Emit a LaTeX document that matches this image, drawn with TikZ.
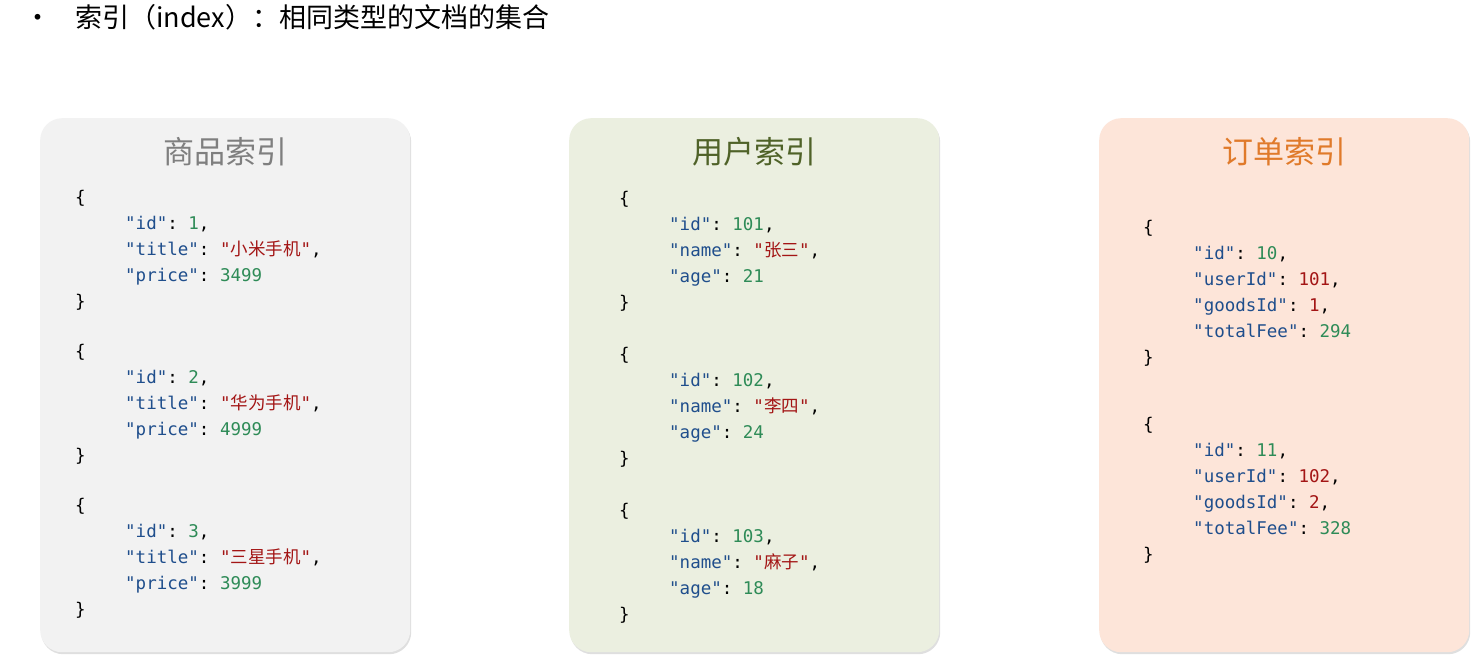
\documentclass[tikz,border=0pt]{standalone}
\usepackage{fontspec}
\setmonofont{DejaVu Sans Mono}
\newfontfamily\cjk{Noto Sans CJK SC}
\usetikzlibrary{shadows}
\definecolor{kc}{HTML}{1F4E8C}
\definecolor{nc}{HTML}{2E8B57}
\definecolor{sc}{HTML}{A31515}
\definecolor{bgA}{HTML}{F2F2F2}
\definecolor{bgB}{HTML}{EBEFE0}
\definecolor{bgC}{HTML}{FDE5D9}
\definecolor{tA}{HTML}{7F7F7F}
\definecolor{tB}{HTML}{4F6228}
\definecolor{tC}{HTML}{E07A2A}
\newcommand{\Kq}[1]{\textcolor{kc}{"#1"}}
\newcommand{\Nq}[1]{\textcolor{nc}{#1}}
\newcommand{\Rq}[1]{\textcolor{sc}{#1}}
\newcommand{\Sq}[1]{\textcolor{sc}{"{\cjk #1}"}}
\newcommand{\indt}{\hspace*{50pt}}
\tikzset{
  panel/.style={rounded corners=22pt, draw=none, minimum width=370pt, anchor=north west,
    drop shadow={shadow xshift=1pt, shadow yshift=-2pt, opacity=0.25}},
  ttl/.style={font=\cjk\fontsize{31}{31}\selectfont, anchor=base},
  obj/.style={font=\ttfamily\fontsize{17.5}{26}\selectfont, align=left, anchor=north west, inner sep=0pt, text depth=0pt}
}
\begin{document}
\begin{tikzpicture}[x=1pt,y=-1pt]
\useasboundingbox (0,0) rectangle (1482,664);
\fill[white] (0,0) rectangle (1482,664);
\node[font=\cjk\fontsize{27}{27}\selectfont, anchor=base west, inner sep=0pt] (head) at (24,27) {•\hspace{24pt}索引（index）：相同类型的文档的集合};

\node[panel, fill=bgA, minimum height=534pt] (pA) at (40,118) {};
\node[panel, fill=bgB, minimum height=534pt] (pB) at (569,118) {};
\node[panel, fill=bgC, minimum height=534pt] (pC) at (1099,118) {};
\node[ttl, text=tA] (tA) at (225,163) {商品索引};
\node[ttl, text=tB] (tB) at (754,163) {用户索引};
\node[ttl, text=tC] (tC) at (1284,163) {订单索引};

\node[obj] (a1) at (75,190) {\{\\\indt\Kq{id}: \Nq{1},\\\indt\Kq{title}: \Sq{小米手机},\\\indt\Kq{price}: \Nq{3499}\\\}};
\node[obj] (a2) at (75,344) {\{\\\indt\Kq{id}: \Nq{2},\\\indt\Kq{title}: \Sq{华为手机},\\\indt\Kq{price}: \Nq{4999}\\\}};
\node[obj] (a3) at (75,498) {\{\\\indt\Kq{id}: \Nq{3},\\\indt\Kq{title}: \Sq{三星手机},\\\indt\Kq{price}: \Nq{3999}\\\}};

\node[obj] (b1) at (619,191) {\{\\\indt\Kq{id}: \Nq{101},\\\indt\Kq{name}: \Sq{张三},\\\indt\Kq{age}: \Nq{21}\\\}};
\node[obj] (b2) at (619,347) {\{\\\indt\Kq{id}: \Nq{102},\\\indt\Kq{name}: \Sq{李四},\\\indt\Kq{age}: \Nq{24}\\\}};
\node[obj] (b3) at (619,503) {\{\\\indt\Kq{id}: \Nq{103},\\\indt\Kq{name}: \Sq{麻子},\\\indt\Kq{age}: \Nq{18}\\\}};

\node[obj] (c1) at (1143,220) {\{\\\indt\Kq{id}: \Nq{10},\\\indt\Kq{userId}: \Rq{101},\\\indt\Kq{goodsId}: \Rq{1},\\\indt\Kq{totalFee}: \Nq{294}\\\}};
\node[obj] (c2) at (1143,417) {\{\\\indt\Kq{id}: \Nq{11},\\\indt\Kq{userId}: \Rq{102},\\\indt\Kq{goodsId}: \Rq{2},\\\indt\Kq{totalFee}: \Nq{328}\\\}};
\end{tikzpicture}
\end{document}
